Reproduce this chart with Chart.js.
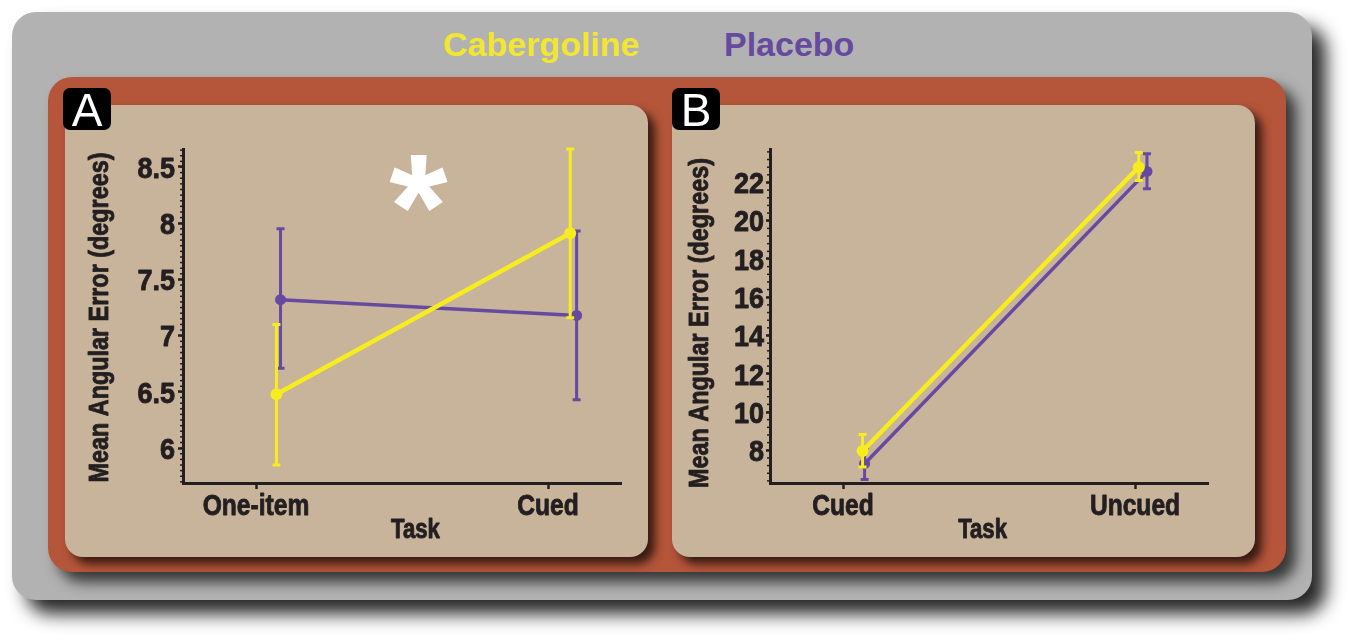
<!DOCTYPE html>
<html><head><meta charset="utf-8">
<script src="https://cdn.jsdelivr.net/npm/chart.js@4"></script>
<style>
html,body{margin:0;padding:0;background:#fff;width:1353px;height:641px;overflow:hidden;}
.abs{position:absolute;}
#gray{left:12px;top:12px;width:1300px;height:588px;background:#b2b2b2;border-radius:24px;box-shadow:14px 14px 18px rgba(0,0,0,0.85);}
#red{left:48px;top:77px;width:1238px;height:495px;background:#b5553a;border-radius:24px;box-shadow:10px 10px 14px rgba(0,0,0,0.7);}
.tan{top:105px;width:583px;height:452px;background:#c8b39b;border-radius:18px;box-shadow:7px 7px 10px rgba(0,0,0,0.7);}
#tanA{left:65px;} #tanB{left:672px;}
.lbl{top:88px;width:48px;height:42px;background:#000;border-radius:7px;color:#fff;font:46px "Liberation Sans",Arial,sans-serif;text-align:center;line-height:44px;}
#lblA{left:63px;} #lblB{left:672px;}
.ttl{top:27px;font:bold 34px "Liberation Sans",Arial,sans-serif;line-height:34px;white-space:nowrap;}
#tCab{left:443px;color:#f2e630;} #tPla{left:724px;color:#654aa0;}
.cw{top:105px;width:583px;height:452px;}
#cwA{left:65px;} #cwB{left:672px;}
</style></head>
<body>
<div id="gray" class="abs"></div>
<div id="red" class="abs"></div>
<div id="tanA" class="abs tan"></div>
<div id="tanB" class="abs tan"></div>
<div id="tCab" class="abs ttl">Cabergoline</div>
<div id="tPla" class="abs ttl">Placebo</div>
<div id="cwA" class="abs cw"><canvas id="cA" width="583" height="452"></canvas></div>
<div id="cwB" class="abs cw"><canvas id="cB" width="583" height="452"></canvas></div>
<div id="lblA" class="abs lbl">A</div>
<div id="lblB" class="abs lbl">B</div>
<script>
// ---------- data ----------
const seriesNames = ['Cabergoline', 'Placebo'];
const xTitle = 'Task';
const yTitle = 'Mean Angular Error (degrees)';

// Panel A
const catsA = ['One-item', 'Cued'];
const cabA = [6.48, 7.91];
const cabLoA = [5.85, 7.16];
const cabHiA = [7.10, 8.66];
const plaA = [7.32, 7.18];
const plaLoA = [6.71, 6.43];
const plaHiA = [7.95, 7.93];
const cabDodgeA = [0.070, 0.076];
const plaDodgeA = [0.084, 0.098];
const yTicksA = [6, 6.5, 7, 7.5, 8, 8.5];

// Panel B
const catsB = ['Cued', 'Uncued'];
const cabB = [7.96, 22.80];
const cabLoB = [7.13, 22.10];
const cabHiB = [8.82, 23.57];
const plaB = [7.30, 22.58];
const plaLoB = [6.47, 21.67];
const plaHiB = [8.13, 23.50];
const cabDodgeB = [0.067, 0.013];
const plaDodgeB = [0.074, 0.041];
const yTicksB = [8, 10, 12, 14, 16, 18, 20, 22];

const sigMarkA = {x: 1.556, y: 8.35, text: '*'};

// ---------- style ----------
const YEL = '#f6ec1e', PUR = '#654aa0', INK = '#231f20';
const FONT = '"Liberation Sans",Arial,sans-serif';
Chart.defaults.font.family = FONT;
Chart.defaults.font.weight = 'bold';
Chart.defaults.color = INK;

const errorBars = {
  id: 'errorBars',
  afterDatasetDraw(chart, args, opts) {
    const ds = chart.data.datasets[args.index];
    if (!ds.errLo) return;
    const {ctx, scales: {x, y}} = chart;
    ctx.save();
    ctx.strokeStyle = ds.borderColor; ctx.lineWidth = opts.width;
    ds.data.forEach((p, i) => {
      const px = x.getPixelForValue(p.x);
      const yl = y.getPixelForValue(ds.errLo[i]), yh = y.getPixelForValue(ds.errHi[i]);
      ctx.beginPath();
      ctx.moveTo(px, yl); ctx.lineTo(px, yh);
      ctx.moveTo(px - opts.cap, yl); ctx.lineTo(px + opts.cap, yl);
      ctx.moveTo(px - opts.cap, yh); ctx.lineTo(px + opts.cap, yh);
      ctx.stroke();
    });
    ctx.restore();
  }
};

const minorTicks = {
  id: 'minorTicks',
  afterDraw(chart, args, opts) {
    const y = chart.scales.y, ctx = chart.ctx;
    ctx.save(); ctx.strokeStyle = INK; ctx.lineWidth = opts.width;
    const k0 = Math.ceil(y.min / opts.step - 1e-6), k1 = Math.floor(y.max / opts.step + 1e-6);
    for (let k = k0; k <= k1; k++) {
      const py = y.getPixelForValue(k * opts.step);
      ctx.beginPath(); ctx.moveTo(y.right, py); ctx.lineTo(y.right - opts.len, py); ctx.stroke();
    }
    ctx.restore();
  }
};

// condensed heavy labels drawn through the chart's own scales
function narrowText(ctx, text, x, y, align, k, rot) {
  ctx.save(); ctx.translate(x, y); if (rot) ctx.rotate(rot); ctx.scale(k, 1);
  ctx.textAlign = align; ctx.textBaseline = 'alphabetic';
  ctx.lineWidth = 0.9; ctx.lineJoin = 'round'; ctx.strokeStyle = ctx.fillStyle;
  ctx.fillText(text, 0, 0); ctx.strokeText(text, 0, 0); ctx.restore();
}
const axisText = {
  id: 'axisText',
  afterDraw(chart, args, o) {
    const {ctx, scales: {x, y}, chartArea} = chart;
    ctx.save(); ctx.fillStyle = INK;
    ctx.font = 'bold ' + o.yTickSize + 'px ' + FONT;
    y.ticks.forEach(t => {
      narrowText(ctx, String(t.value), y.right - o.yTickGap, y.getPixelForValue(t.value) + 0.358 * o.yTickSize, 'right', o.yTickK);
    });
    ctx.font = 'bold ' + o.xTickSize + 'px ' + FONT;
    x.ticks.forEach(t => {
      narrowText(ctx, o.cats[Math.round(t.value) - 1], x.getPixelForValue(t.value), chartArea.bottom + o.xTickBase, 'center', o.xTickK);
    });
    ctx.font = 'bold ' + o.xTitleSize + 'px ' + FONT;
    narrowText(ctx, xTitle, x.getPixelForValue(o.xTitleAt), chartArea.bottom + o.xTitleBase, 'center', o.xTickK);
    ctx.font = 'bold ' + o.yTitleSize + 'px ' + FONT;
    narrowText(ctx, yTitle, o.yTitleBase, (chartArea.top + chartArea.bottom) / 2 + o.yTitleDY, 'center', o.xTickK, -Math.PI / 2);
    ctx.restore();
  }
};

const sigMark = {
  id: 'sigMark',
  afterDraw(chart, args, opts) {
    if (!opts.mark) return;
    const {ctx, scales: {x, y}} = chart;
    const cx = x.getPixelForValue(opts.mark.x), cy = y.getPixelForValue(opts.mark.y);
    ctx.save();
    ctx.fillStyle = '#ffffff';
    ctx.font = 'bold ' + opts.size + 'px ' + FONT;
    ctx.textAlign = 'center'; ctx.textBaseline = 'alphabetic';
    const m = ctx.measureText(opts.mark.text);
    const base = cy + (m.actualBoundingBoxAscent - m.actualBoundingBoxDescent) / 2;
    ctx.fillText(opts.mark.text, cx, base);
    ctx.restore();
  }
};

function mkSeries(vals, dodge) { return vals.map((v, i) => ({x: i + 1 + dodge[i], y: v})); }

function makeChart(id, cats, cab, cabLo, cabHi, cabDodge, pla, plaLo, plaHi, plaDodge, yTicks, yMin, yMax, minorStep, cfg) {
  return new Chart(document.getElementById(id), {
    type: 'line',
    data: {
      datasets: [
        {label: seriesNames[0], data: mkSeries(cab, cabDodge), errLo: cabLo, errHi: cabHi,
         borderColor: YEL, backgroundColor: YEL, borderWidth: 4.5, pointRadius: 6, pointBorderWidth: 0, clip: false},
        {label: seriesNames[1], data: mkSeries(pla, plaDodge), errLo: plaLo, errHi: plaHi,
         borderColor: PUR, backgroundColor: PUR, borderWidth: 3.5, pointRadius: 5.5, pointBorderWidth: 0, clip: false}
      ]
    },
    options: {
      responsive: false, animation: false,
      layout: {padding: {left: 0, right: cfg.padR, top: 44, bottom: 0}},
      plugins: {
        legend: {display: false}, tooltip: {enabled: false},
        errorBars: {width: 3, cap: 4},
        minorTicks: {step: minorStep, len: 3, width: 1.5},
        sigMark: {mark: cfg.mark, size: 150},
        axisText: {cats: cats, yTickSize: 30, yTickK: 0.9, yTickGap: cfg.yTickGap,
                   xTickSize: 30, xTickK: 0.82, xTickBase: 32,
                   xTitleSize: 27, xTitleBase: 54.5, xTitleAt: cfg.xTitleAt,
                   yTitleSize: 28.5, yTitleBase: cfg.yTitleBase, yTitleDY: cfg.yTitleDY}
      },
      scales: {
        x: {
          type: 'linear', min: 0.75, max: 2.25,
          afterBuildTicks: s => { s.ticks = cats.map((c, i) => ({value: i + 1})); },
          afterFit: s => { s.height = 74; },
          ticks: {display: false},
          grid: {drawOnChartArea: false, drawTicks: true, tickLength: 6, tickWidth: 2.5, tickColor: INK},
          border: {display: true, color: INK, width: 3}
        },
        y: {
          type: 'linear', min: yMin, max: yMax,
          afterBuildTicks: s => { s.ticks = yTicks.map(v => ({value: v})); },
          afterFit: s => { s.width = cfg.yW; },
          ticks: {display: false},
          grid: {drawOnChartArea: false, drawTicks: true, tickLength: cfg.tickLen, tickWidth: 2.5, tickColor: INK},
          border: {display: true, color: INK, width: 3}
        }
      }
    },
    plugins: [errorBars, minorTicks, sigMark, axisText]
  });
}

makeChart('cA', catsA, cabA, cabLoA, cabHiA, cabDodgeA, plaA, plaLoA, plaHiA, plaDodgeA, yTicksA, 5.69, 8.66, 0.05,
  {padR: 27, yW: 118, yTickGap: 8, tickLen: 5, mark: sigMarkA, xTitleAt: 1.546, yTitleBase: 42.5, yTitleDY: 1.5});
makeChart('cB', catsB, cabB, cabLoB, cabHiB, cabDodgeB, plaB, plaLoB, plaHiB, plaDodgeB, yTicksB, 6.29, 23.75, 0.4,
  {padR: 47, yW: 98, yTickGap: 6, tickLen: 4, mark: null, xTitleAt: 1.478, yTitleBase: 35.5, yTitleDY: 7});
</script>
</body></html>
